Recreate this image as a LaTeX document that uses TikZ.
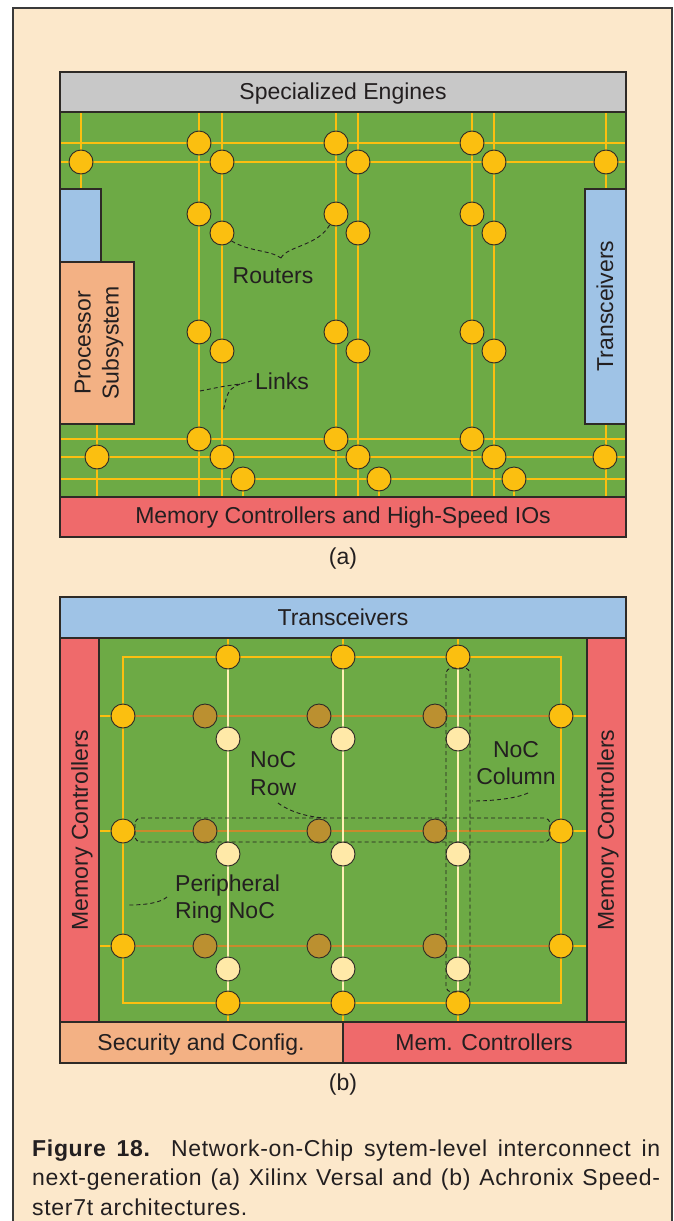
\documentclass[tikz,border=0pt]{standalone}
\usepackage{fontspec}
\setmainfont{Liberation Sans}
\newfontfamily\capfont[LetterSpace=3.0]{Liberation Sans}
\definecolor{paper}{HTML}{FCE8CB}
\definecolor{frame}{HTML}{3A3A3A}
\definecolor{edge}{HTML}{2E2A26}
\definecolor{txt}{HTML}{231F20}
\definecolor{chip}{HTML}{6DAA45}
\definecolor{linkc}{HTML}{FBBF10}
\definecolor{rtr}{HTML}{FBBF10}
\definecolor{engine}{HTML}{C8C8C8}
\definecolor{xcvr}{HTML}{9FC3E6}
\definecolor{cpu}{HTML}{F3B184}
\definecolor{mem}{HTML}{EF6A6B}
\definecolor{rowc}{HTML}{C98A2C}
\definecolor{rowrtr}{HTML}{BB9030}
\definecolor{colc}{HTML}{FFF0B4}
\definecolor{colrtr}{HTML}{FFE9A8}
\tikzset{
  router/.style={circle, draw=edge, line width=0.9pt, fill=rtr, minimum size=24pt, inner sep=0pt},
  rowrouter/.style={router, fill=rowrtr},
  colrouter/.style={router, fill=colrtr},
  link/.style={draw=linkc, line width=2pt},
  rowlink/.style={draw=rowc, line width=2pt},
  collink/.style={draw=colc, line width=2pt},
  block/.style={draw=edge, line width=1.2pt},
  callout/.style={draw=txt, line width=0.9pt, dash pattern=on 4pt off 3pt},
  grouping/.style={draw=txt, line width=0.9pt, dash pattern=on 4pt off 3pt, rounded corners=6pt},
  lbl/.style={text=txt, font=\fontsize{23}{27}\selectfont, inner sep=0pt, align=center},
  baselbl/.style={lbl, anchor=base},
  sidelbl/.style={text=txt, font=\fontsize{23}{27}\selectfont, inner sep=0pt, align=left, anchor=base west},
  captext/.style={text=txt, font=\capfont\fontsize{23}{28}\selectfont, inner sep=0pt, anchor=base west},
}
\begin{document}
\begin{tikzpicture}[x=1pt, y=-1pt]
\useasboundingbox (0,0) rectangle (673,1221);
\fill[white] (0,0) rectangle (673,1221);
\filldraw[fill=paper, draw=frame, line width=1.2pt] (13,8) rectangle (672,1240);

% ---------------- (a) Versal ----------------
\fill[chip] (60,112) rectangle (626,497);
% horizontal links
\foreach \y in {143,162,439,457,479} \draw[link] (60,\y) -- (626,\y);
% vertical links
\foreach \x in {199,222,336,358,472,494} \draw[link] (\x,112) -- (\x,497);
\draw[link] (81,112) -- (81,189);
\draw[link] (606,112) -- (606,189);
\draw[link] (97,424) -- (97,497);
\draw[link] (606,424) -- (606,497);
\foreach \x in {243,379,514} \draw[link] (\x,479) -- (\x,497);

% blocks
\filldraw[block, fill=engine] (60,72) rectangle (626,112);
\filldraw[block, fill=xcvr] (60,189) rectangle (101,262);
\filldraw[block, fill=cpu] (60,262) rectangle (134,424);
\filldraw[block, fill=xcvr] (585,189) rectangle (626,424);
\filldraw[block, fill=mem] (60,497) rectangle (626,537);
\draw[block] (60,72) rectangle (626,537);

% routers
\foreach \p [count=\i] in {(81,162),(199,143),(222,162),(336,143),(358,162),(472,143),(494,162),(606,162),
  (199,214),(222,233),(336,214),(358,233),(472,214),(494,233),
  (199,332),(222,351),(336,332),(358,351),(472,332),(494,351),
  (199,439),(222,457),(243,479),(97,457),(336,439),(358,457),(379,479),(472,439),(494,457),(514,479),(605,457)}
  \node[router] (ra\i) at \p {};

\node[baselbl] (engines) at (343,99) {Specialized Engines};
\node[baselbl] (memio) at (343,523) {Memory Controllers and High-Speed IOs};
\node[lbl, rotate=90, font=\fontsize{23}{28}\selectfont] (ps) at (99,343) {Processor\\Subsystem};
\node[lbl, rotate=90] (xcvra) at (605,306) {Transceivers};
\node[baselbl] (routers) at (273,283) {Routers};
\node[baselbl] (links) at (282,389) {Links};
\node[baselbl] (capa) at (343,564) {(a)};

% callouts
\coordinate (rtip) at (281,258);
\draw[callout] (ra10.-40) .. controls (250,252) and (270,250) .. (rtip);
\draw[callout] (rtip) .. controls (287,246) and (318,246) .. (ra11.-120);
\coordinate (lfork) at (240,384);
\coordinate (lend1) at (200,391);
\coordinate (lend2) at (223,412);
\draw[callout] (links.west) ++(-3,0) -- (lfork) .. controls (225,386) .. (lend1);
\draw[callout] (lfork) .. controls (228,390) .. (lend2);

% ---------------- (b) Speedster7t ----------------
\fill[chip] (99,638) rectangle (587,1022);
% stubs from the ring to the edge blocks
\foreach \y in {716,831,946} {
  \draw[link] (99,\y) -- (123,\y);
  \draw[link] (561,\y) -- (587,\y);
}
\foreach \x in {228,343,458} {
  \draw[link] (\x,638) -- (\x,657);
  \draw[link] (\x,1003) -- (\x,1022);
}
% peripheral ring
\draw[link] (123,657) rectangle (561,1003);
% NoC rows and columns
\foreach \y in {716,831,946} \draw[rowlink] (123,\y) -- (561,\y);
\foreach \x in {228,343,458} \draw[collink] (\x,657) -- (\x,1003);

% blocks
\filldraw[block, fill=xcvr] (60,597) rectangle (626,638);
\filldraw[block, fill=mem] (60,638) rectangle (99,1022);
\filldraw[block, fill=mem] (587,638) rectangle (626,1022);
\filldraw[block, fill=cpu] (60,1022) rectangle (343,1063);
\filldraw[block, fill=mem] (343,1022) rectangle (626,1063);
\draw[block] (60,597) rectangle (626,1063);

% ring routers
\foreach \p [count=\i] in {(228,657),(343,657),(458,657),(123,716),(123,831),(123,946),
  (561,716),(561,831),(561,946),(228,1003),(343,1003),(458,1003)}
  \node[router] (rb\i) at \p {};
% row routers
\foreach \y [count=\j] in {716,831,946}
  \foreach \x [count=\i] in {205,319,435}
    \node[rowrouter] (rr\j\i) at (\x,\y) {};
% column routers
\foreach \y [count=\j] in {739,854,969}
  \foreach \x [count=\i] in {228,343,458}
    \node[colrouter] (rc\j\i) at (\x,\y) {};

% highlighted row and column
\draw[grouping] (135,818) rectangle (550,842);
\draw[grouping] (446,668) rectangle (470,992);

\node[baselbl] (xcvrb) at (343,625) {Transceivers};
\node[lbl, rotate=90] (meml) at (82,830) {Memory Controllers};
\node[lbl, rotate=90] (memr) at (608,830) {Memory Controllers};
\node[baselbl] (sec) at (201,1050) {Security and Config.};
\node[baselbl] (memb) at (484,1050) {Mem. Controllers};
\node[baselbl] (capb) at (343,1090) {(b)};
\node[sidelbl, font=\fontsize{23}{28}\selectfont] (noctxt) at (250,795) {NoC\\Row};
\node[baselbl, font=\fontsize{23}{27}\selectfont] (coltxt) at (516,784) {NoC\\Column};
\node[sidelbl, font=\fontsize{23}{26.5}\selectfont] (ringtxt) at (175,918) {Peripheral\\Ring NoC};

\coordinate (rowend) at (325,818);
\coordinate (colend) at (472,801);
\coordinate (ringend) at (129,905);
\draw[callout] (278,803) .. controls (290,812) and (308,817) .. (rowend);
\draw[callout] (528,793) .. controls (515,799) and (490,801) .. (colend);
\draw[callout] (167,897) .. controls (160,903) and (145,905) .. (ringend);

% ---------------- caption ----------------
\node[captext] (cap1) at (32,1156) {\makebox[628pt][s]{\textbf{Figure 18.} Network-on-Chip sytem-level interconnect in}};
\node[captext] (cap2) at (32,1185.5) {\makebox[628pt][s]{next-generation (a) Xilinx Versal and (b) Achronix Speed-}};
\node[captext] (cap3) at (32,1215) {ster7t architectures.};
\end{tikzpicture}
\end{document}
